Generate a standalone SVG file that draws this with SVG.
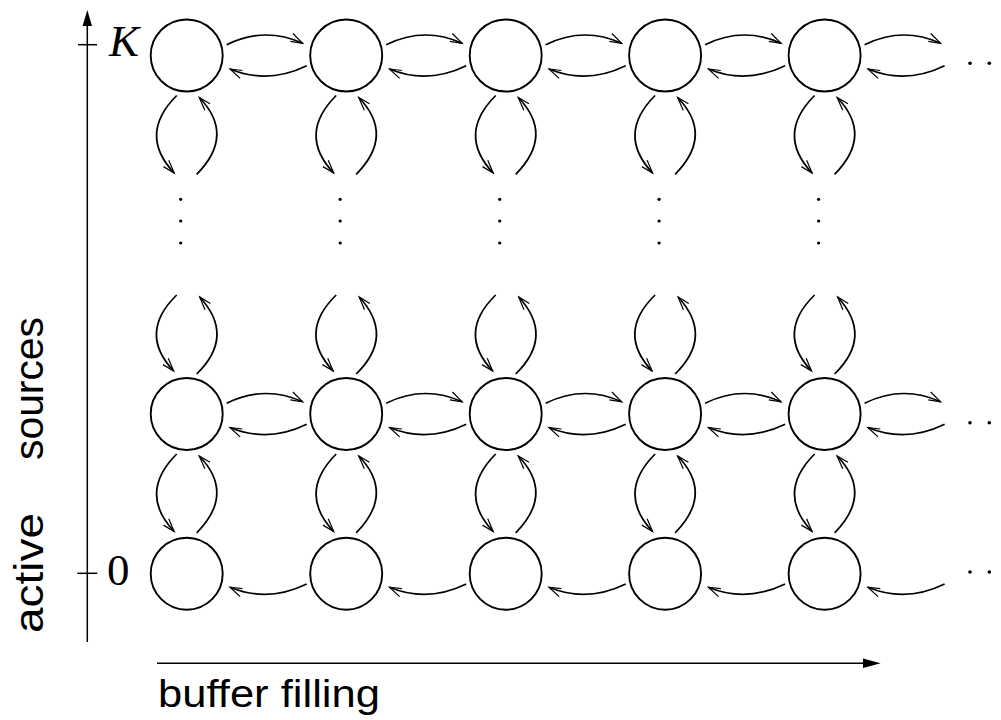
<svg xmlns="http://www.w3.org/2000/svg" xmlns:xlink="http://www.w3.org/1999/xlink" width="1001" height="720" viewBox="0 0 1001 720">
<style>
.node{fill:none;stroke:#000;stroke-width:1.9}
.arc{fill:none;stroke:#000;stroke-width:1.7;marker-end:url(#ah)}
.axis{fill:none;stroke:#000;stroke-width:1.5}
.dot{fill:#000}
.lab{font-family:"Liberation Sans",Arial,sans-serif;fill:#000}
.math{font-family:"Liberation Serif","Times New Roman",serif;fill:#000}
</style>
<defs>
<marker id="ah" markerUnits="userSpaceOnUse" markerWidth="16" markerHeight="12" viewBox="-14 -6 16 12" refX="0" refY="0" orient="auto">
<path d="M-13,-4.8 L0,0 L-12,3.4" fill="none" stroke="#000" stroke-width="1.2"/>
</marker>
<path id="hr" d="M40,-10.8 Q78,-29.5 116,-12.2"/>
<path id="hl" d="M120,10.2 Q81,29.2 43.3,13.5"/>
<path id="vd" d="M-10,40 Q-49,79 -12.5,117.5"/>
<path id="vu" d="M10,118.8 Q49,79.5 12.5,42"/>
<path id="wd" d="M-10,-119 Q-49,-81 -13,-43"/>
<path id="wu" d="M10,-40 Q49,-78 13,-117"/>
<g id="vdots"><circle cx="0" cy="0" r="1.6"/><circle cx="0" cy="21.7" r="1.6"/><circle cx="0" cy="43.7" r="1.6"/></g>
<g id="hdots"><circle cx="0" cy="0" r="1.8"/><circle cx="19.3" cy="0" r="1.8"/></g>
</defs>

<g id="axes">
<line class="axis" x1="87.3" y1="642" x2="87.3" y2="22"/>
<polygon points="87.3,10 82.6,26 92,26" fill="#000"/>
<line class="axis" x1="78" y1="44.7" x2="97" y2="44.7"/>
<line class="axis" x1="77.3" y1="573.3" x2="97.3" y2="573.3"/>
<line class="axis" x1="157" y1="663.3" x2="866" y2="663.3"/>
<polygon points="863,658.6 880.7,663.3 863,668" fill="#000"/>
<text class="math" x="109" y="55.7" font-size="45" font-style="italic">K</text>
<text class="math" x="107" y="585" font-size="45">0</text>
<text class="lab" x="158" y="707" font-size="39" textLength="222" lengthAdjust="spacingAndGlyphs">buffer filling</text>
<text class="lab" transform="translate(43.3,633) rotate(-90)" font-size="41" textLength="120" lengthAdjust="spacingAndGlyphs">active</text>
<text class="lab" transform="translate(43.3,460) rotate(-90)" font-size="41" textLength="143" lengthAdjust="spacingAndGlyphs">sources</text>
</g>

<g id="nodes">
<g id="n-K-1"><circle class="node" cx="186.7" cy="55.5" r="36"/></g>
<g id="n-K-2"><circle class="node" cx="346.2" cy="55.5" r="36"/></g>
<g id="n-K-3"><circle class="node" cx="505.7" cy="55.5" r="36"/></g>
<g id="n-K-4"><circle class="node" cx="665.1" cy="55.5" r="36"/></g>
<g id="n-K-5"><circle class="node" cx="824.6" cy="55.5" r="36"/></g>
<g id="n-1-1"><circle class="node" cx="186.7" cy="414" r="36"/></g>
<g id="n-1-2"><circle class="node" cx="346.2" cy="414" r="36"/></g>
<g id="n-1-3"><circle class="node" cx="505.7" cy="414" r="36"/></g>
<g id="n-1-4"><circle class="node" cx="665.1" cy="414" r="36"/></g>
<g id="n-1-5"><circle class="node" cx="824.6" cy="414" r="36"/></g>
<g id="n-0-1"><circle class="node" cx="186.7" cy="573.7" r="36"/></g>
<g id="n-0-2"><circle class="node" cx="346.2" cy="573.7" r="36"/></g>
<g id="n-0-3"><circle class="node" cx="505.7" cy="573.7" r="36"/></g>
<g id="n-0-4"><circle class="node" cx="665.1" cy="573.7" r="36"/></g>
<g id="n-0-5"><circle class="node" cx="824.6" cy="573.7" r="36"/></g>
</g>

<g id="ellipses" class="dot">
<use href="#vdots" x="180.7" y="199.3"/>
<use href="#vdots" x="340.2" y="199.3"/>
<use href="#vdots" x="499.7" y="199.3"/>
<use href="#vdots" x="659.1" y="199.3"/>
<use href="#vdots" x="818.6" y="199.3"/>
<use href="#hdots" x="970" y="63.3"/>
<use href="#hdots" x="970" y="422.7"/>
<use href="#hdots" x="970" y="572"/>
</g>

<g id="connectors" class="arc">
<use href="#hr" x="186.7" y="55.5"/><use href="#hl" x="186.7" y="55.5"/>
<use href="#hr" x="346.2" y="55.5"/><use href="#hl" x="346.2" y="55.5"/>
<use href="#hr" x="505.7" y="55.5"/><use href="#hl" x="505.7" y="55.5"/>
<use href="#hr" x="665.1" y="55.5"/><use href="#hl" x="665.1" y="55.5"/>
<use href="#hr" x="824.6" y="55.5"/><use href="#hl" x="824.6" y="55.5"/>
<use href="#hr" x="186.7" y="414"/><use href="#hl" x="186.7" y="414"/>
<use href="#hr" x="346.2" y="414"/><use href="#hl" x="346.2" y="414"/>
<use href="#hr" x="505.7" y="414"/><use href="#hl" x="505.7" y="414"/>
<use href="#hr" x="665.1" y="414"/><use href="#hl" x="665.1" y="414"/>
<use href="#hr" x="824.6" y="414"/><use href="#hl" x="824.6" y="414"/>
<use href="#hl" x="186.7" y="573.7"/>
<use href="#hl" x="346.2" y="573.7"/>
<use href="#hl" x="505.7" y="573.7"/>
<use href="#hl" x="665.1" y="573.7"/>
<use href="#hl" x="824.6" y="573.7"/>
<use href="#vd" x="186.7" y="55.5"/><use href="#vu" x="186.7" y="55.5"/>
<use href="#vd" x="346.2" y="55.5"/><use href="#vu" x="346.2" y="55.5"/>
<use href="#vd" x="505.7" y="55.5"/><use href="#vu" x="505.7" y="55.5"/>
<use href="#vd" x="665.1" y="55.5"/><use href="#vu" x="665.1" y="55.5"/>
<use href="#vd" x="824.6" y="55.5"/><use href="#vu" x="824.6" y="55.5"/>
<use href="#wd" x="186.7" y="414"/><use href="#wu" x="186.7" y="414"/>
<use href="#wd" x="346.2" y="414"/><use href="#wu" x="346.2" y="414"/>
<use href="#wd" x="505.7" y="414"/><use href="#wu" x="505.7" y="414"/>
<use href="#wd" x="665.1" y="414"/><use href="#wu" x="665.1" y="414"/>
<use href="#wd" x="824.6" y="414"/><use href="#wu" x="824.6" y="414"/>
<use href="#vd" x="186.7" y="414"/><use href="#vu" x="186.7" y="414"/>
<use href="#vd" x="346.2" y="414"/><use href="#vu" x="346.2" y="414"/>
<use href="#vd" x="505.7" y="414"/><use href="#vu" x="505.7" y="414"/>
<use href="#vd" x="665.1" y="414"/><use href="#vu" x="665.1" y="414"/>
<use href="#vd" x="824.6" y="414"/><use href="#vu" x="824.6" y="414"/>
</g>
</svg>
